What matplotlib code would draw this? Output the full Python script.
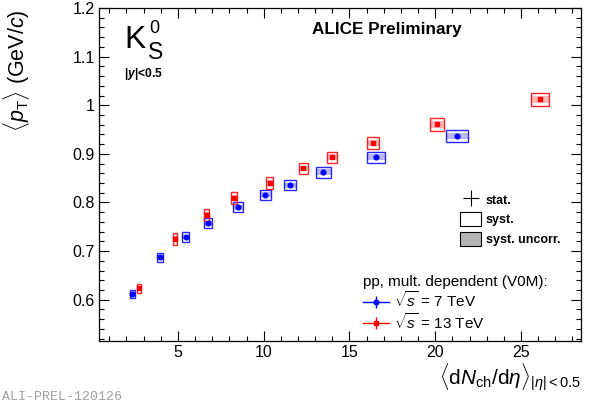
import matplotlib
matplotlib.use('Agg')
import matplotlib.pyplot as plt
from matplotlib.patches import Rectangle
from matplotlib.lines import Line2D
from matplotlib.legend_handler import HandlerTuple
from matplotlib.ticker import MultipleLocator, FuncFormatter

plt.rcParams['font.family'] = ['Liberation Sans', 'DejaVu Sans']
plt.rcParams['mathtext.fontset'] = 'custom'
plt.rcParams['mathtext.rm'] = 'Liberation Sans'
plt.rcParams['mathtext.it'] = 'Liberation Sans:italic'
plt.rcParams['mathtext.bf'] = 'Liberation Sans:bold'
plt.rcParams['mathtext.bfit'] = 'Liberation Sans:italic:bold'

# ---- data: pp 7 TeV ----
mult_7 = [2.34, 3.95, 5.45, 6.77, 8.50, 10.09, 11.53, 13.47, 16.53, 21.25]
mpt_7 = [0.612, 0.687, 0.729, 0.757, 0.790, 0.816, 0.835, 0.862, 0.893, 0.937]
mult_err_7 = [0.15, 0.17, 0.21, 0.22, 0.27, 0.31, 0.37, 0.43, 0.52, 0.64]
syst_7 = [0.008, 0.0096, 0.0096, 0.0103, 0.0103, 0.0103, 0.0103, 0.0114, 0.0117, 0.0124]
syst_unc_7 = [0.004, 0.005, 0.005, 0.005, 0.005, 0.005, 0.005, 0.006, 0.006, 0.0065]

# ---- data: pp 13 TeV ----
mult_13 = [2.73, 4.83, 6.67, 8.28, 10.36, 12.31, 14.00, 16.39, 20.12, 26.11]
mpt_13 = [0.623, 0.725, 0.774, 0.809, 0.840, 0.870, 0.893, 0.922, 0.961, 1.012]
mult_err_13 = [0.13, 0.12, 0.16, 0.17, 0.21, 0.25, 0.29, 0.35, 0.42, 0.53]
syst_13 = [0.0096, 0.0124, 0.012, 0.012, 0.012, 0.012, 0.0114, 0.013, 0.0134, 0.013]
syst_unc_13 = [0.005, 0.006, 0.006, 0.006, 0.006, 0.006, 0.006, 0.0065, 0.007, 0.007]

x_ticks = [5, 10, 15, 20, 25]
y_ticks = [0.6, 0.7, 0.8, 0.9, 1.0, 1.1, 1.2]

fig = plt.figure(figsize=(5.92, 4.05), dpi=100)
ax = fig.add_axes([99 / 592, 1 - 341 / 405, 482 / 592, 333 / 405])
ax.set_xlim(0.4, 28.5)
ax.set_ylim(0.515, 1.2)


def draw_series(xs, ys, xe, se, su, color, marker):
    for x, y, hw, e, eu in zip(xs, ys, xe, se, su):
        ax.add_patch(Rectangle((x - hw, y - eu), 2 * hw, 2 * eu,
                               facecolor=color, alpha=0.28, edgecolor='none', zorder=2))
        ax.add_patch(Rectangle((x - hw, y - e), 2 * hw, 2 * e,
                               facecolor='none', edgecolor=color, lw=1.0, alpha=0.85, zorder=3))
    ax.plot(xs, ys, ls='none', marker=marker, color=color, ms=3.4, zorder=4)


draw_series(mult_7, mpt_7, mult_err_7, syst_7, syst_unc_7, '#0000ff', 'o')
draw_series(mult_13, mpt_13, mult_err_13, syst_13, syst_unc_13, '#ff0000', 's')

# ticks
ax.set_xticks(x_ticks)
ax.set_yticks(y_ticks)
ax.xaxis.set_minor_locator(MultipleLocator(1))
ax.yaxis.set_minor_locator(MultipleLocator(0.02))
ax.yaxis.set_major_formatter(FuncFormatter(lambda v, _: f'{v:g}'))
ax.tick_params(which='both', direction='in', top=True, right=True, width=0.8)
ax.tick_params(which='major', length=7.5, labelsize=11.5, pad=3)
ax.tick_params(which='minor', length=3.8)
for s in ax.spines.values():
    s.set_linewidth(0.9)

# axis labels
ax.set_ylabel(r'$\langle p_{\mathrm{T}}\rangle$ (GeV/$c$)', loc='top', fontsize=15.5)
ax.yaxis.set_label_coords(-0.138, 0.995)
ax.set_xlabel(r'$\langle\mathrm{d}N_{\mathrm{ch}}/\mathrm{d}\eta\rangle_{|\eta|<0.5}$',
              loc='right', fontsize=15)
ax.xaxis.set_label_coords(1.0, -0.06)

# particle label
ax.text(0.052, 0.879, 'K', fontsize=23, transform=ax.transAxes, ha='left', va='baseline')
ax.text(0.104, 0.924, '0', fontsize=13, transform=ax.transAxes, ha='left', va='baseline')
ax.text(0.102, 0.846, 'S', fontsize=16.5, transform=ax.transAxes, ha='left', va='baseline')
ax.text(0.051, 0.802, r'|$\mathbfit{y}$|<0.5', fontsize=8.7, weight='bold',
        transform=ax.transAxes, ha='left', va='center')

ax.text(0.597, 0.935, 'ALICE Preliminary', fontsize=12.3, weight='bold',
        transform=ax.transAxes, ha='center', va='center')

# legend 1: error types
h1 = [Line2D([], [], color='black', marker='+', ms=11, mew=0.8, ls='none'),
      Rectangle((0, 0), 1, 1, facecolor='white', edgecolor='black', lw=0.8),
      Rectangle((0, 0), 1, 1, facecolor='#b4b4b4', edgecolor='black', lw=0.8)]
leg1 = ax.legend(h1, ['stat.', 'syst.', 'syst. uncorr.'], loc='upper left',
                 bbox_to_anchor=(0.749, 0.446), frameon=False,
                 prop={'weight': 'bold', 'size': 9}, handlelength=1.7, handleheight=1.35,
                 handletextpad=0.35, labelspacing=0.45, borderpad=0, borderaxespad=0)
ax.add_artist(leg1)

# legend 2: energies
h2 = [(Line2D([], [], color='#0000ff', lw=1, marker='o', ms=3.4),
       Line2D([], [], color='#0000ff', marker='|', ms=8, mew=1, ls='none')),
      (Line2D([], [], color='#ff0000', lw=1, marker='s', ms=3.4),
       Line2D([], [], color='#ff0000', marker='|', ms=8, mew=1, ls='none'))]
leg2 = ax.legend(h2, [r'$\sqrt{s}$ = 7 TeV', r'$\sqrt{s}$ = 13 TeV'],
                 title='pp, mult. dependent (V0M):', loc='upper left',
                 bbox_to_anchor=(0.548, 0.198), alignment='left', frameon=False,
                 prop={'size': 11}, title_fontsize=11, handlelength=1.7,
                 handletextpad=0.33, labelspacing=0.08, borderpad=0, borderaxespad=0,
                 handler_map={tuple: HandlerTuple(ndivide=1)})

fig.text(2 / 592, 1 - 397 / 405, 'ALI-PREL-120126', family='Liberation Mono',
         color='#a0a0a0', fontsize=9.5, va='center', ha='left')

fig.savefig('out.png', dpi=100)
